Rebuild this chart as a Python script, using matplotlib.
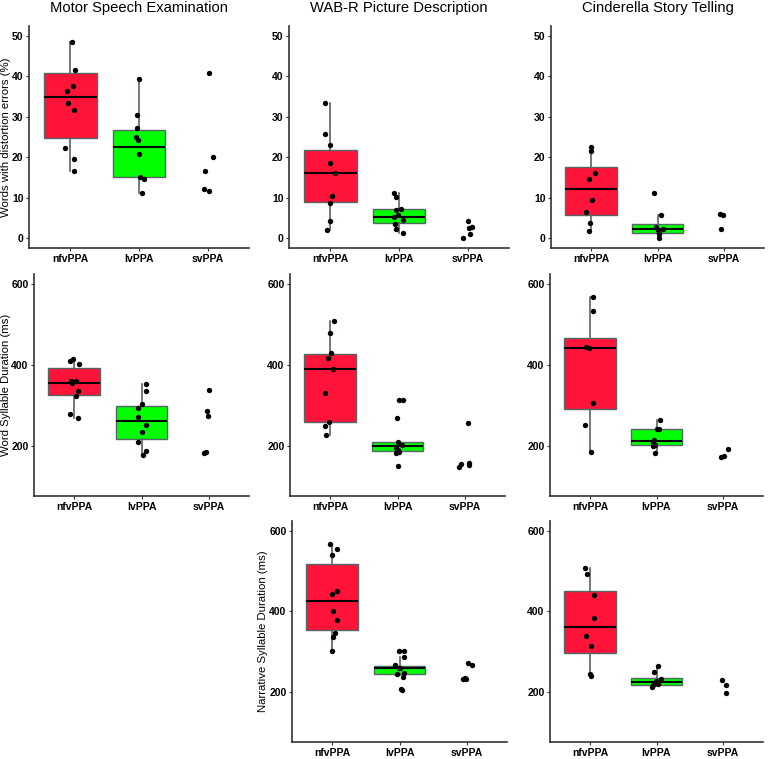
import matplotlib
matplotlib.use("Agg")
import matplotlib.pyplot as plt
import numpy as np

plt.rcParams["font.family"] = ["Liberation Sans", "DejaVu Sans"]

groups = ["nfvPPA", "lvPPA", "svPPA"]
titles = ["Motor Speech Examination", "WAB-R Picture Description", "Cinderella Story Telling"]

# row 1: words with distortion errors (%)
mse_err = {
    "nfvPPA": [48.6, 41.7, 37.6, 36.5, 33.4, 31.7, 22.3, 19.5, 16.7],
    "lvPPA": [39.4, 30.4, 27.3, 25.1, 24.3, 20.8, 15.2, 14.7, 11.2],
    "svPPA": [40.8, 20.0, 16.7, 12.2, 11.6],
}
wab_err = {
    "nfvPPA": [33.5, 25.7, 23.1, 18.5, 16.0, 10.5, 8.6, 4.3, 2.0],
    "lvPPA": [11.2, 10.1, 7.1, 6.9, 5.7, 5.1, 4.5, 3.5, 2.3, 1.2],
    "svPPA": [4.3, 2.8, 2.4, 1.0, 0.0],
}
cin_err = {
    "nfvPPA": [22.6, 21.6, 16.1, 14.7, 9.4, 6.3, 3.8, 1.6],
    "lvPPA": [11.2, 5.7, 2.8, 2.3, 2.0, 1.2, 0.9, 0.0],
    "svPPA": [5.9, 5.7, 2.1],
}

# row 2: word syllable duration (ms)
mse_wsd = {
    "nfvPPA": [415, 409, 402, 360, 359, 354, 336, 322, 279, 268],
    "lvPPA": [352, 334, 302, 294, 271, 250, 233, 208, 186, 176],
    "svPPA": [338, 285, 273, 183, 181],
}
wab_wsd = {
    "nfvPPA": [509, 479, 429, 416, 390, 330, 259, 249, 227],
    "lvPPA": [314, 314, 268, 210, 201, 194, 189, 184, 182, 150],
    "svPPA": [255, 157, 155, 153, 147],
}
cin_wsd = {
    "nfvPPA": [568, 534, 444, 441, 306, 252, 185],
    "lvPPA": [264, 242, 240, 213, 209, 202, 198, 181],
    "svPPA": [192, 173, 171],
}

# row 3: narrative syllable duration (ms)
wab_nsd = {
    "nfvPPA": [569, 556, 540, 452, 444, 402, 378, 347, 337, 302],
    "lvPPA": [301, 301, 287, 266, 260, 258, 247, 243, 238, 206, 204],
    "svPPA": [272, 266, 235, 233, 231],
}
cin_nsd = {
    "nfvPPA": [507, 492, 440, 383, 338, 313, 244, 240],
    "lvPPA": [264, 249, 232, 228, 223, 219, 216, 213],
    "svPPA": [230, 218, 198],
}

# box stats: (q1, median, q3, whisker low, whisker high)
mse_err_box = {"nfvPPA": (24.7, 35.0, 40.8, 16.7, 48.6), "lvPPA": (15.2, 22.6, 26.7, 11.2, 39.4)}
wab_err_box = {"nfvPPA": (9.0, 16.0, 21.9, 2.0, 33.5), "lvPPA": (3.6, 5.2, 7.1, 1.2, 11.2)}
cin_err_box = {"nfvPPA": (5.6, 12.0, 17.5, 1.6, 22.6), "lvPPA": (1.2, 2.1, 3.5, 0.0, 5.7)}
mse_wsd_box = {"nfvPPA": (326, 355, 391, 268, 415), "lvPPA": (215, 260, 298, 176, 352)}
wab_wsd_box = {"nfvPPA": (259, 390, 428, 227, 509), "lvPPA": (187, 199, 210, 182, 210)}
cin_wsd_box = {"nfvPPA": (291, 441, 466, 185, 568), "lvPPA": (201, 211, 240, 181, 264)}
wab_nsd_box = {"nfvPPA": (354, 425, 518, 302, 569), "lvPPA": (245, 259, 264, 241, 287)}
cin_nsd_box = {"nfvPPA": (296, 361, 452, 240, 507), "lvPPA": (217, 225, 235, 215, 264)}

fills = {"nfvPPA": "#FF1439", "lvPPA": "#00FF00"}
edge = "#566666"

W, H = 774, 759
fig = plt.figure(figsize=(W / 100, H / 100), dpi=100)
rng = np.random.default_rng(7)


def panel(rect, pts, box, ylabel=None, title=None, pct=True, label_x=6):
    l, t, r, b = rect
    ax = fig.add_axes([l / W, 1 - b / H, (r - l) / W, (b - t) / H])
    stats = []
    pos = []
    for i, g in enumerate(groups):
        if g in box:
            q1, med, q3, lo, hi = box[g]
            stats.append(dict(q1=q1, med=med, q3=q3, whislo=lo, whishi=hi, fliers=[]))
            pos.append(i + 1)
    bp = ax.bxp(stats, positions=pos, widths=0.77, patch_artist=True, showcaps=False,
                boxprops=dict(edgecolor=edge, linewidth=1.0),
                whiskerprops=dict(color=edge, linewidth=1.2),
                medianprops=dict(color="black", linewidth=1.5))
    for patch, p in zip(bp["boxes"], pos):
        patch.set_facecolor(fills[groups[p - 1]])
    for i, g in enumerate(groups):
        y = np.array(pts[g])
        x = i + 1 + rng.uniform(-0.08, 0.08, len(y))
        ax.scatter(x, y, s=15, color="black", zorder=5, linewidths=0)
    ax.set_xlim(0.4, 3.6)
    ax.set_xticks([1, 2, 3])
    ax.set_xticklabels(groups, fontsize=7.5, fontweight="bold")
    if pct:
        ax.set_ylim(-2.5, 52.5)
        ax.set_yticks([0, 10, 20, 30, 40, 50])
    else:
        ax.set_ylim(75, 625)
        ax.set_yticks([200, 400, 600])
    ax.tick_params(axis="y", labelsize=7.5, length=2.5, width=0.8, color="#333333", pad=1.5)
    ax.tick_params(axis="x", length=2.5, width=0.8, color="#333333", pad=1.5)
    for lab in ax.get_yticklabels():
        lab.set_fontweight("bold")
    for s in ["top", "right"]:
        ax.spines[s].set_visible(False)
    for s in ["left", "bottom"]:
        ax.spines[s].set_linewidth(1.2)
        ax.spines[s].set_color("#333333")
    if ylabel:
        fig.text(label_x / W, 1 - (t + b) / 2 / H, ylabel, rotation=90,
                 ha="center", va="center", fontsize=8.2)
    if title:
        ax.set_title(title, fontsize=10.6, pad=10)
    return ax


panel((29, 26, 249, 248), mse_err, mse_err_box, "Words with distortion errors (%)", titles[0], label_x=6)
panel((289, 26, 509, 248), wab_err, wab_err_box, None, titles[1])
panel((551, 26, 764, 248), cin_err, cin_err_box, None, titles[2])

panel((34, 274, 249, 496), mse_wsd, mse_wsd_box, "Word Syllable Duration (ms)", pct=False, label_x=6)
panel((290, 274, 505, 496), wab_wsd, wab_wsd_box, None, pct=False)
panel((550, 274, 763, 496), cin_wsd, cin_wsd_box, None, pct=False)

panel((292, 521, 507, 742), wab_nsd, wab_nsd_box, "Narrative Syllable Duration (ms)", pct=False, label_x=263)
panel((550, 521, 763, 742), cin_nsd, cin_nsd_box, None, pct=False)

fig.savefig("out.png", dpi=100)
